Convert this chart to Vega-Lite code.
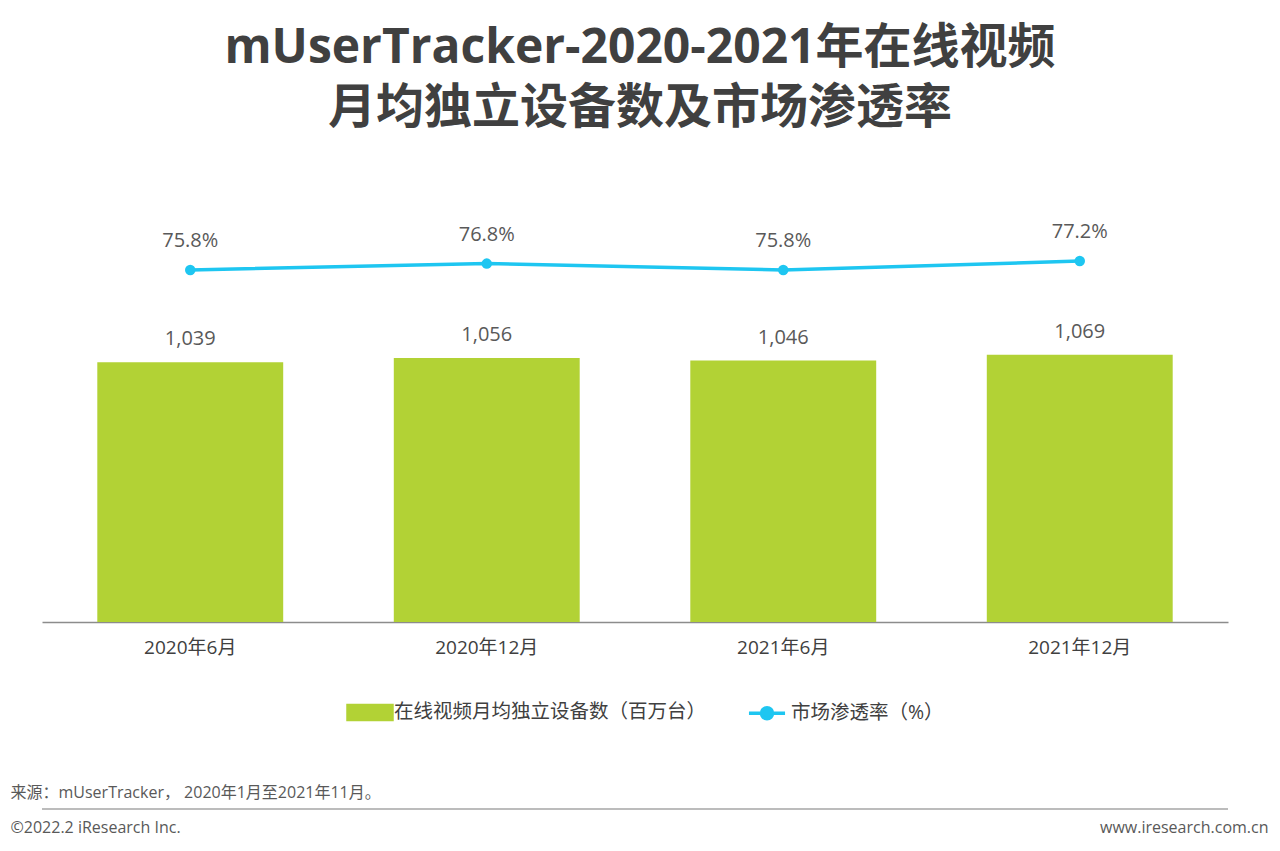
{
  "$schema": "https://vega.github.io/schema/vega-lite/v6.json",
  "width": 1186,
  "height": 400,
  "autosize": {"type": "none"},
  "padding": {"left": 42, "top": 222, "right": 52, "bottom": 229},
  "background": "#ffffff",
  "title": {
    "text": ["mUserTracker-2020-2021年在线视频", "月均独立设备数及市场渗透率"],
    "fontSize": 48,
    "fontWeight": "bold",
    "color": "#404040",
    "lineHeight": 60,
    "anchor": "middle",
    "offset": 89,
    "dx": 5,
    "font": "'Open Sans', 'Noto Sans CJK SC'"
  },
  "data": {
    "values": [
      {"month": "2020年6月", "devices": 1039, "rate": 0.758},
      {"month": "2020年12月", "devices": 1056, "rate": 0.768},
      {"month": "2021年6月", "devices": 1046, "rate": 0.758},
      {"month": "2021年12月", "devices": 1069, "rate": 0.772}
    ]
  },
  "encoding": {
    "x": {
      "field": "month",
      "type": "nominal",
      "sort": null,
      "scale": {"paddingInner": 0.373, "paddingOuter": 0.1865},
      "axis": {
        "labelAngle": 0,
        "labelFontSize": 19,
        "labelColor": "#404040",
        "labelFont": "'Open Sans', 'Noto Sans CJK SC'",
        "labelPadding": 16,
        "ticks": false,
        "domainColor": "#8c8c8c",
        "domainWidth": 1.5,
        "grid": false,
        "title": "来源：mUserTracker， 2020年1月至2021年11月。",
        "titleAngle": 0,
        "titleAnchor": "start",
        "titleAlign": "left",
        "titleBaseline": "middle",
        "titleX": -32,
        "titleY": 170,
        "titleFontSize": 16,
        "titleFontWeight": "normal",
        "titleColor": "#595959",
        "titleFont": "'Open Sans', 'Noto Sans CJK SC'"
      }
    }
  },
  "layer": [
    {
      "layer": [
        {
          "mark": {"type": "bar", "color": "#B2D235"},
          "encoding": {
            "y": {
              "field": "devices",
              "type": "quantitative",
              "scale": {"domain": [0, 1600], "nice": false},
              "axis": {
                "orient": "left",
                "labels": false,
                "ticks": false,
                "domain": false,
                "grid": false,
                "title": "©2022.2 iResearch Inc.",
                "titleAngle": 0,
                "titleAlign": "left",
                "titleBaseline": "middle",
                "titleX": -32,
                "titleY": 605,
                "titleFontSize": 16,
                "titleFontWeight": "normal",
                "titleColor": "#595959",
                "titleFont": "'Open Sans', 'Noto Sans CJK SC'"
              }
            },
            "color": {
              "datum": "在线视频月均独立设备数（百万台）",
              "type": "nominal",
              "scale": {
                "domain": ["在线视频月均独立设备数（百万台）", "市场渗透率（%）"],
                "range": ["#B2D235", "#1EC6F1"]
              },
              "legend": {
                "orient": "none",
                "legendX": 304,
                "legendY": 466,
                "direction": "horizontal",
                "title": null,
                "labelFontSize": 19.5,
                "labelColor": "#404040",
                "labelFont": "'Open Sans', 'Noto Sans CJK SC'",
                "labelLimit": 600,
                "symbolSize": 1936,
                "symbolStrokeWidth": 3.5,
                "labelOffset": 0,
                "columnPadding": 34,
                "encode": {
                  "symbols": {
                    "update": {
                      "shape": {"signal": "datum.value === '市场渗透率（%）' ? 'M-0.82,0H0.82M-0.25,0A0.25,0.25,0,1,0,0.25,0A0.25,0.25,0,1,0,-0.25,0' : 'M-1,-0.32H1V0.32H-1Z'"},
                      "fill": {"signal": "datum.value === '市场渗透率（%）' ? '#1EC6F1' : '#B2D235'"},
                      "stroke": {"signal": "datum.value === '市场渗透率（%）' ? '#1EC6F1' : 'transparent'"},
                      "opacity": {"value": 1},
                      "fillOpacity": {"value": 1},
                      "strokeOpacity": {"value": 1}
                    }
                  }
                }
              }
            }
          }
        },
        {
          "mark": {
            "type": "text",
            "baseline": "middle",
            "dy": -23,
            "fontSize": 20,
            "color": "#595959",
            "font": "'Open Sans', 'Noto Sans CJK SC'"
          },
          "encoding": {
            "y": {"field": "devices", "type": "quantitative"},
            "text": {"field": "devices", "type": "quantitative", "format": ","}
          }
        },
        {
          "data": {"values": [{"sep": -748}]},
          "mark": {"type": "rule", "color": "#a6a6a6", "strokeWidth": 1.5},
          "encoding": {
            "x": null,
            "y": {"field": "sep", "type": "quantitative"}
          }
        }
      ]
    },
    {
      "layer": [
        {
          "mark": {
            "type": "line",
            "color": "#1EC6F1",
            "strokeWidth": 3.5,
            "point": {"filled": true, "size": 110, "color": "#1EC6F1", "opacity": 1}
          },
          "encoding": {
            "y": {
              "field": "rate",
              "type": "quantitative",
              "scale": {"domain": [0.208, 0.833], "nice": false, "zero": false},
              "axis": {
                "orient": "right",
                "labels": false,
                "ticks": false,
                "domain": false,
                "grid": false,
                "title": "www.iresearch.com.cn",
                "titleAngle": 0,
                "titleAlign": "right",
                "titleBaseline": "middle",
                "titleX": 40,
                "titleY": 605,
                "titleFontSize": 16,
                "titleFontWeight": "normal",
                "titleColor": "#595959",
                "titleFont": "'Open Sans', 'Noto Sans CJK SC'"
              }
            },
            "color": {"datum": "市场渗透率（%）", "type": "nominal"}
          }
        },
        {
          "mark": {
            "type": "text",
            "baseline": "middle",
            "dy": -29,
            "fontSize": 20,
            "color": "#595959",
            "font": "'Open Sans', 'Noto Sans CJK SC'"
          },
          "encoding": {
            "y": {"field": "rate", "type": "quantitative"},
            "text": {"field": "rate", "type": "quantitative", "format": ".1%"}
          }
        }
      ]
    }
  ],
  "resolve": {"scale": {"y": "independent"}, "axis": {"y": "independent"}},
  "config": {
    "view": {"stroke": null}
  }
}
